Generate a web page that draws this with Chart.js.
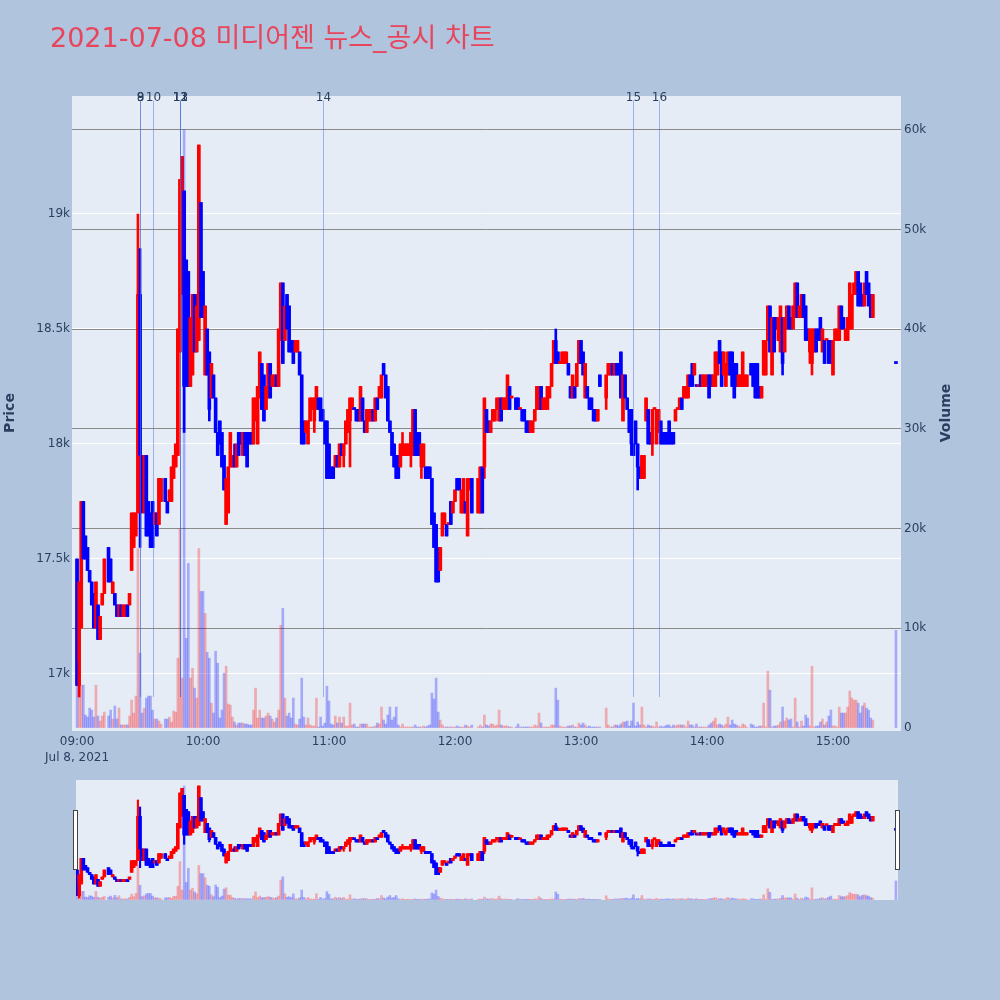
<!DOCTYPE html>
<html>
<head>
<meta charset="utf-8">
<script src="https://cdn.jsdelivr.net/npm/chart.js@4.4.0/dist/chart.umd.min.js"></script>
<style>
  html, body { margin: 0; padding: 0; background: #b0c4de; }
  #wrap { position: relative; width: 1000px; height: 1000px; }
  #main { position: absolute; left: 0; top: 0; }
  #slider { position: absolute; left: 76px; top: 780px; background: #e5ecf6; }
  .handle { position: absolute; top: 810px; width: 3px; height: 58px; background: #fff; border: 1px solid #444; }
</style>
</head>
<body>
<div id="wrap">
  <canvas id="main" width="1000" height="1000"></canvas>
  <canvas id="slider" width="822" height="120"></canvas>
  <div class="handle" style="left:73px"></div>
  <div class="handle" style="left:895px"></div>
</div>
<script>
// 1-minute candles, minutes after 09:00
const minuteIdx = [
  0,1,2,3,4,5,6,7,8,9, 10,11,12,13,15,16,17,18,19,20, 21,22,23,24,25,26,27,28,29,30,
  31,32,33,34,35,36,37,38,39,40, 42,43,44,45,46,47,48,49,50,51, 52,53,54,55,56,57,58,59,60,61,
  62,63,64,65,66,67,68,69,70,71, 72,73,74,75,76,77,78,79,80,81, 82,83,84,85,86,87,88,89,90,91,
  92,93,94,95,96,97,98,99,100,101, 102,103,104,105,106,107,108,109,110,111, 112,113,114,115,116,117,118,119,120,121,
  122,123,124,125,126,127,128,129,130,131, 132,133,134,135,136,137,138,139,140,141, 142,143,144,145,146,147,148,149,150,151,
  152,153,154,155,156,157,158,159,160,161, 162,163,164,165,166,167,168,169,170,171, 172,173,174,175,176,177,178,179,180,181,
  182,183,184,185,186,187,188,191,192,193, 194,195,196,197,198,199,200,201,202,203, 204,205,206,207,209,210,211,212,213,214,
  215,216,217,218,219,220,221,222,223,224, 225,226,227,228,229,230,231,232,233,234, 235,236,237,238,239,240,241,242,243,244,
  245,246,247,248,249,252,253,254,255,256, 257,258,259,260,261,262,263,264,265,266, 267,268,269,270,271,272,273,274,275,276,
  277,278,279,280,281,282,283,284,285,286, 287,288,289,290,291,292,293,294,295,296, 297,298,299,300,301,302,303,304,305,306,
  307,308,309,310,311,312,313,314,315,316, 317,318,319,321,322,323,324,325,326,327, 328,329,330,331,332,333,334,335,336,337,
  338,339,340,341,342,343,344,345,346,347, 348,349,350,351,352,353,354,355,356,357, 358,359,360,361,362,363,364,365,366,367,
  368,369,370,371,372,373,374,375,376,377, 378,379,390
];
const openP = [
  17500,16950,17200,17750,17600,17550,17450,17400,17350,17200, 17300,17150,17300,17350,17550,17500,17350,17350,17300,17250, 17300,17250,17250,17300,17300,17450,17550,17600,17700,18650,
  17950,17700,17950,17750,17700,17750,17650,17700,17650,17750, 17850,17750,17750,17750,17850,17900,17950,18400,18650,19100, 18800,18750,18250,18300,18650,18400,18450,19050,18750,18300,
  18500,18400,18200,18300,18200,18050,18100,18050,17950,17650, 17700,17900,17900,17950,17900,18050,18050,17950,18050,18050, 18050,18050,18000,18100,18000,18200,18350,18300,18150,18200,
  18350,18250,18250,18300,18250,18450,18700,18450,18650,18600, 18450,18450,18400,18400,18400,18300,18100,18050,18000,18100, 18150,18100,18150,18200,18200,18150,18100,18100,18000,17900,
  17900,17900,17950,17900,18000,17950,18000,18050,18100,18150, 18150,18150,18150,18100,18200,18100,18050,18100,18100,18150, 18100,18200,18200,18200,18350,18300,18250,18100,18050,18000,
  17950,17950,17900,17950,17950,17950,17950,17950,17950,18150, 18050,18050,17900,17900,17900,17900,17900,17850,17700,17650, 17550,17450,17600,17650,17650,17650,17750,17700,17750,17850,
  17850,17700,17700,17750,17600,17800,17850,17700,17700,17900, 17900,18150,18100,18050,18100,18100,18150,18100,18200,18150, 18150,18150,18250,18200,18200,18200,18150,18150,18150,18100,
  18100,18050,18050,18100,18150,18150,18250,18150,18150,18150, 18200,18250,18350,18450,18400,18350,18350,18350,18350,18350, 18250,18200,18250,18250,18350,18450,18400,18200,18250,18200,
  18200,18150,18150,18100,18300,18200,18300,18300,18350,18300, 18350,18350,18400,18100,18300,18200,18150,18150,18000,18100, 18000,17900,17850,17850,18100,18150,18050,18000,18150,18000,
  18050,18100,18050,18050,18050,18100,18050,18050,18100,18150, 18150,18200,18200,18200,18200,18300,18350,18300,18250,18250, 18300,18250,18250,18250,18300,18300,18250,18250,18300,18450,
  18400,18300,18250,18300,18400,18400,18350,18350,18250,18250, 18250,18250,18250,18350,18350,18350,18350,18250,18200,18300, 18300,18450,18600,18300,18550,18550,18450,18400,18550,18400,
  18500,18600,18550,18500,18550,18700,18550,18550,18650,18600, 18500,18400,18350,18400,18500,18500,18550,18400,18450,18450, 18450,18450,18300,18450,18450,18450,18600,18550,18450,18450,
  18500,18500,18650,18650,18750,18700,18650,18600,18750,18700, 18650,18550,18350
];
const highP = [
  17500,17400,17750,17750,17600,17550,17450,17400,17350,17400, 17300,17250,17350,17500,17550,17500,17400,17350,17300,17300, 17300,17300,17300,17300,17350,17700,17700,17700,19000,18850,
  17950,17950,17950,17750,17700,17750,17700,17700,17850,17850, 17850,17750,17800,17900,17950,18000,18500,19150,19250,19100, 18800,18750,18550,18650,18650,18650,19300,19050,18750,18600,
  18500,18400,18350,18300,18200,18050,18100,18050,17950,17850, 17900,18050,17950,18000,18000,18050,18050,18050,18050,18050, 18050,18050,18200,18200,18250,18400,18350,18300,18250,18350,
  18350,18300,18300,18300,18500,18700,18700,18600,18650,18600, 18450,18450,18450,18450,18400,18300,18100,18100,18100,18200, 18200,18200,18250,18200,18200,18150,18100,18100,18000,17900,
  17900,17950,17950,18000,18000,18000,18100,18150,18200,18200, 18150,18150,18150,18250,18200,18100,18150,18150,18150,18150, 18200,18200,18250,18300,18350,18300,18250,18100,18050,18000,
  17950,17950,18000,18050,18000,18000,18000,18050,18150,18150, 18050,18050,18000,18000,17900,17900,17900,17850,17700,17650, 17550,17550,17700,17700,17650,17650,17750,17750,17800,17850,
  17850,17800,17850,17750,17850,17850,17850,17850,17900,17900, 18200,18150,18100,18100,18150,18150,18200,18200,18200,18200, 18200,18300,18250,18200,18200,18200,18150,18150,18150,18100,
  18100,18100,18100,18150,18250,18250,18250,18200,18200,18250, 18250,18350,18450,18500,18400,18350,18400,18400,18400,18350, 18250,18300,18250,18350,18450,18450,18400,18350,18250,18200,
  18200,18150,18150,18150,18300,18300,18350,18350,18350,18350, 18350,18350,18400,18300,18300,18200,18150,18150,18000,18100, 18000,17900,17950,17950,18200,18150,18050,18150,18150,18150,
  18150,18100,18050,18050,18050,18100,18050,18050,18150,18150, 18200,18200,18250,18250,18300,18300,18350,18350,18250,18250, 18300,18300,18300,18300,18300,18300,18300,18400,18400,18450,
  18400,18400,18350,18400,18400,18400,18350,18350,18300,18300, 18400,18300,18300,18350,18350,18350,18350,18250,18250,18450, 18450,18600,18600,18550,18550,18550,18550,18600,18550,18550,
  18600,18600,18550,18600,18700,18700,18600,18650,18650,18600, 18500,18500,18500,18500,18500,18500,18550,18500,18450,18450, 18450,18450,18450,18500,18500,18600,18600,18550,18500,18550,
  18700,18650,18700,18750,18750,18700,18650,18700,18750,18700, 18650,18650,18350
];
const lowP = [
  16950,16900,17200,17500,17500,17450,17400,17300,17200,17200, 17150,17150,17300,17350,17400,17400,17350,17300,17250,17250, 17250,17250,17250,17250,17300,17450,17550,17600,17700,17550,
  17700,17700,17600,17600,17550,17550,17650,17600,17650,17750, 17750,17700,17750,17750,17850,17900,17950,18400,18650,18050, 18250,18250,18250,18300,18400,18400,18450,18550,18550,18300,
  18300,18100,18200,18200,18050,17950,18000,17900,17800,17650, 17700,17900,17900,17900,17900,17950,18000,17950,17950,17900, 18000,18000,18000,18100,18000,18200,18150,18100,18150,18200,
  18200,18250,18250,18250,18250,18450,18350,18450,18500,18400, 18400,18350,18400,18400,18300,18000,18000,18050,18000,18100, 18150,18050,18150,18150,18100,18100,18000,17850,17850,17850,
  17850,17900,17900,17900,17950,17900,18000,18050,17900,18150, 18150,18100,18100,18100,18100,18050,18050,18100,18100,18100, 18100,18150,18200,18200,18300,18200,18100,18050,17950,17900,
  17850,17850,17900,17950,17950,17950,17950,17900,17950,17950, 17950,17950,17850,17900,17850,17850,17850,17650,17550,17400, 17400,17450,17600,17650,17600,17650,17650,17700,17750,17800,
  17800,17700,17700,17700,17600,17800,17700,17700,17700,17700, 17850,18050,18050,18050,18100,18100,18150,18100,18100,18150, 18150,18150,18150,18200,18150,18150,18150,18100,18100,18050,
  18050,18050,18050,18100,18150,18150,18150,18150,18150,18150, 18200,18250,18350,18350,18350,18350,18350,18350,18350,18300, 18200,18200,18200,18250,18350,18350,18300,18200,18200,18150,
  18150,18100,18100,18100,18250,18150,18300,18300,18300,18300, 18300,18300,18200,18100,18200,18150,18050,17950,17950,18000, 17800,17850,17850,17850,18100,18000,18000,17950,18150,18000,
  18050,18000,18000,18000,18000,18000,18000,18000,18100,18150, 18150,18150,18200,18200,18200,18250,18250,18300,18250,18250, 18250,18250,18250,18250,18200,18250,18250,18250,18300,18350,
  18250,18300,18250,18300,18300,18250,18200,18250,18250,18250, 18250,18250,18250,18300,18250,18200,18200,18200,18200,18300, 18300,18450,18400,18300,18400,18500,18450,18400,18300,18400,
  18500,18500,18500,18500,18550,18550,18550,18550,18550,18450, 18450,18350,18300,18400,18400,18450,18450,18400,18350,18450, 18350,18350,18300,18450,18450,18450,18500,18500,18450,18450,
  18500,18500,18650,18650,18600,18600,18600,18600,18650,18600, 18550,18550,18350
];
const closeP = [
  16950,17400,17750,17500,17500,17450,17400,17300,17200,17400, 17150,17250,17350,17500,17400,17400,17400,17300,17250,17300, 17250,17300,17300,17250,17350,17700,17700,17700,18650,17950,
  17800,17950,17600,17600,17550,17550,17700,17600,17850,17850, 17750,17700,17800,17900,17950,18000,18500,19150,19250,18250, 18250,18250,18550,18650,18400,18600,19300,18550,18550,18600,
  18300,18150,18350,18200,18050,17950,18000,17900,17800,17850, 17900,18050,17950,17900,18000,17950,18000,18050,17950,17900, 18000,18000,18200,18200,18250,18400,18150,18100,18250,18350,
  18200,18300,18300,18250,18500,18700,18350,18600,18500,18400, 18400,18350,18450,18450,18300,18000,18000,18100,18100,18200, 18200,18200,18250,18150,18100,18100,18000,17850,17850,17850,
  17850,17950,17900,18000,17950,18000,18100,18150,18200,18200, 18150,18100,18100,18250,18100,18050,18150,18150,18150,18100, 18200,18150,18250,18300,18300,18200,18100,18050,17950,17900,
  17850,17850,18000,18000,18000,18000,18000,18050,18150,17950, 17950,17950,18000,18000,17850,17850,17850,17650,17550,17400, 17400,17550,17700,17700,17600,17650,17650,17750,17800,17800,
  17800,17800,17850,17700,17850,17850,17700,17850,17900,17700, 18200,18050,18050,18100,18150,18150,18200,18200,18100,18200, 18200,18300,18150,18200,18150,18150,18150,18100,18100,18050,
  18050,18100,18100,18150,18250,18250,18150,18200,18200,18250, 18250,18350,18450,18350,18350,18350,18400,18400,18400,18300, 18200,18300,18200,18350,18450,18350,18300,18350,18200,18150,
  18150,18100,18100,18150,18250,18300,18350,18350,18300,18350, 18300,18300,18200,18300,18200,18150,18050,18000,17950,18000, 17900,17850,17950,17950,18200,18000,18000,18150,18150,18150,
  18150,18000,18000,18000,18000,18000,18000,18000,18150,18150, 18200,18150,18250,18250,18300,18250,18250,18350,18250,18250, 18250,18300,18300,18300,18200,18250,18300,18400,18400,18350,
  18250,18400,18350,18400,18300,18250,18200,18250,18300,18300, 18400,18300,18300,18300,18250,18200,18200,18200,18250,18450, 18450,18600,18400,18550,18400,18500,18550,18600,18350,18550,
  18600,18500,18500,18600,18700,18550,18600,18650,18550,18450, 18450,18500,18500,18500,18400,18450,18450,18500,18350,18450, 18350,18350,18450,18500,18500,18600,18500,18500,18500,18550,
  18700,18650,18700,18750,18600,18600,18600,18700,18650,18600, 18550,18650,18350
];
const volume = [
  6700,4300,4300,4300,1300,1100,2000,1800,1100,4300, 1200,700,1200,1600,1200,1800,900,2200,900,2000, 300,300,300,300,1200,2800,1500,3200,18000,7500,
  1500,2000,3000,3200,3200,1800,900,900,700,400, 900,900,1100,600,1700,1600,7000,20000,5000,60000, 9000,16500,5000,6000,4000,3000,18000,13700,13700,11500,
  7600,7000,2500,1500,7700,6500,1000,1800,5500,6200, 2400,2300,1100,600,300,500,500,500,400,400, 300,300,1800,4000,1000,1800,1000,1000,1200,1500,
  1200,900,600,1000,1800,10300,12000,3000,1200,1500, 1000,3000,400,300,900,5000,1100,300,1000,300, 200,200,3000,100,1100,200,500,4200,2700,400,
  300,1200,500,1100,500,1100,200,200,2500,300, 400,100,100,400,400,400,400,100,100,100, 200,500,400,2100,800,400,1300,2100,800,1100,
  2100,300,100,400,100,100,100,100,100,300, 100,100,100,200,100,200,300,3500,2900,5000, 1600,800,300,100,100,100,100,100,100,200,
  100,100,100,300,200,100,300,100,300,100, 1300,300,200,400,400,200,300,1800,300,200, 200,200,100,100,100,400,100,100,100,100,
  100,100,100,300,200,1500,500,100,100,100, 100,300,300,4000,2800,200,100,100,100,200, 200,300,100,100,500,300,500,300,100,200,
  100,100,100,100,100,2000,300,100,100,300, 300,200,400,600,600,700,200,700,2500,200, 600,300,2100,300,100,300,200,200,100,600,
  100,200,100,200,300,300,100,300,200,300, 300,300,300,100,700,300,300,100,400,100, 100,100,100,100,300,500,700,1000,300,400,
  300,200,400,1100,300,800,400,300,200,100, 400,300,100,400,300,100,100,200,200,2500, 100,5700,3800,100,200,200,300,600,2100,700,
  1000,800,900,100,3000,600,100,700,200,1300, 1000,200,6200,100,200,200,600,900,300,600, 1200,1800,200,200,100,2100,1500,1500,1500,2100,
  3700,3000,2800,2800,2500,1500,2200,2500,2000,1800, 1000,800,9800
];

// news / disclosure markers
const newsTimes = ['09:30', '09:30', '09:36', '09:49', '09:49', '09:49', '10:57', '13:25', '13:37'];
const newsLabels = ['8', '9', '10', '11', '12', '13', '14', '15', '16'];

const timeTickLabels = ['09:00', '10:00', '11:00', '12:00', '13:00', '14:00', '15:00'];
const priceTicks = [17000, 17500, 18000, 18500, 19000];
const volumeTicks = [0, 10000, 20000, 30000, 40000, 50000, 60000];

const FONT = '"DejaVu Sans", "Noto Sans CJK KR", sans-serif';
const TXT = '#2a3f5f';

function toMin(s) {
    let p = s.split(':');
    return (parseInt(p[0]) - 9) * 60 + parseInt(p[1]);
}
const timeTicks = timeTickLabels.map(toMin);

// 상승 빨강, 하락 파랑
const isUp = minuteIdx.map((t, i) => {
    if (closeP[i] !== openP[i]) return closeP[i] > openP[i];
    return i === 0 || closeP[i] >= closeP[i - 1];
});
const candleColors = isUp.map(u => u ? '#ff0000' : '#0000ff');
const volColors = isUp.map(u => u ? 'rgba(255,0,0,0.28)' : 'rgba(0,0,255,0.28)');

const wickData = minuteIdx.map((t, i) => ({ x: t, y: [lowP[i], highP[i]] }));
const bodyData = minuteIdx.map((t, i) => ({ x: t, y: [openP[i], closeP[i]] }));
const volData = minuteIdx.map((t, i) => ({ x: t, y: volume[i] }));

function makeDatasets(bodyW, wickW, volW) {
    return [
        { data: volData, yAxisID: 'y1', backgroundColor: volColors, barThickness: volW, grouped: false, order: 0 },
        { data: bodyData, yAxisID: 'y', backgroundColor: candleColors, barThickness: bodyW, grouped: false, minBarLength: 2, order: 1 },
        { data: wickData, yAxisID: 'y', backgroundColor: candleColors, barThickness: wickW, grouped: false, minBarLength: 1, order: 2 }
    ];
}

const plotBg = {
    id: 'plotBg',
    beforeDraw(chart) {
        const { ctx, chartArea: a } = chart;
        ctx.save();
        ctx.fillStyle = '#e5ecf6';
        ctx.fillRect(a.left, a.top, a.right - a.left, a.bottom - a.top);
        ctx.restore();
    }
};

const newsLines = {
    id: 'newsLines',
    afterDatasetsDraw(chart) {
        const { ctx, scales } = chart;
        const y0 = scales.y.getPixelForValue(16900);
        const y1 = scales.y.getPixelForValue(19493);
        ctx.save();
        ctx.strokeStyle = 'rgba(65,105,225,0.45)';
        ctx.lineWidth = 1;
        ctx.fillStyle = TXT;
        ctx.font = '12px ' + FONT;
        ctx.textAlign = 'center';
        ctx.textBaseline = 'alphabetic';
        newsTimes.forEach((s, i) => {
            const x = Math.round(scales.x.getPixelForValue(toMin(s))) + 0.5;
            ctx.beginPath();
            ctx.moveTo(x, y0);
            ctx.lineTo(x, y1);
            ctx.stroke();
            ctx.fillText(newsLabels[i], x, y1);
        });
        ctx.restore();
    }
};

const titles = {
    id: 'titles',
    afterDraw(chart) {
        const ctx = chart.ctx;
        ctx.save();
        ctx.fillStyle = '#e8455c';
        ctx.font = '27px ' + FONT;
        ctx.textAlign = 'left';
        ctx.textBaseline = 'middle';
        ctx.fillText('2021-07-08 미디어젠 뉴스_공시 차트', 50, 40);

        ctx.fillStyle = TXT;
        ctx.font = 'bold 14px ' + FONT;
        ctx.textAlign = 'center';
        ctx.translate(10, 413);
        ctx.rotate(-Math.PI / 2);
        ctx.fillText('Price', 0, 0);
        ctx.rotate(Math.PI / 2);
        ctx.translate(936, 0);
        ctx.rotate(-Math.PI / 2);
        ctx.fillText('Volume', 0, 0);
        ctx.restore();
    }
};

const tickFont = { family: FONT, size: 12 };

new Chart(document.getElementById('main').getContext('2d'), {
    type: 'bar',
    data: { datasets: makeDatasets(3, 2, 2) },
    options: {
        responsive: false,
        animation: false,
        devicePixelRatio: 1,
        layout: { padding: { top: 96 } },
        plugins: { legend: { display: false }, tooltip: { enabled: false } },
        scales: {
            x: {
                type: 'linear', min: -2.4, max: 392.4, offset: false,
                grid: { display: false, offset: false }, border: { display: false },
                afterBuildTicks: s => { s.ticks = timeTicks.map(v => ({ value: v })); },
                afterFit: s => { s.height = 269; },
                ticks: {
                    autoSkip: false, maxRotation: 0, padding: -5, color: TXT,
                    font: { family: FONT, size: 12, lineHeight: 1.35 },
                    callback: v => {
                        const lab = timeTickLabels[timeTicks.indexOf(v)];
                        return v === 0 ? [lab, 'Jul 8, 2021'] : lab;
                    }
                }
            },
            y: {
                position: 'left', min: 16752, max: 19513,
                grid: { color: '#ffffff', lineWidth: 1, drawTicks: false }, border: { display: false },
                afterBuildTicks: s => { s.ticks = priceTicks.map(v => ({ value: v })); },
                afterFit: s => { s.width = 72; },
                ticks: { padding: 2, color: TXT, font: tickFont, callback: v => (v / 1000) + 'k' }
            },
            y1: {
                position: 'right', min: -300, max: 63390,
                grid: { color: c => (c.tick && c.tick.value === 0) ? 'rgba(0,0,0,0)' : '#8a8a8a', lineWidth: 1, drawTicks: false },
                border: { display: false },
                afterBuildTicks: s => { s.ticks = volumeTicks.map(v => ({ value: v })); },
                afterFit: s => { s.width = 99; },
                ticks: { padding: 3, color: TXT, font: tickFont, callback: v => v === 0 ? '0' : (v / 1000) + 'k' }
            }
        }
    },
    plugins: [plotBg, newsLines, titles]
});

// range slider
new Chart(document.getElementById('slider').getContext('2d'), {
    type: 'bar',
    data: { datasets: makeDatasets(3, 1.5, 2) },
    options: {
        responsive: false,
        animation: false,
        devicePixelRatio: 1,
        layout: { padding: 0 },
        plugins: { legend: { display: false }, tooltip: { enabled: false } },
        scales: {
            x: { type: 'linear', min: -0.5, max: 391, offset: false, display: false },
            y: { min: 16857, max: 19428, display: false },
            y1: { min: -260, max: 63170, display: false }
        }
    }
});
</script>
</body>
</html>
